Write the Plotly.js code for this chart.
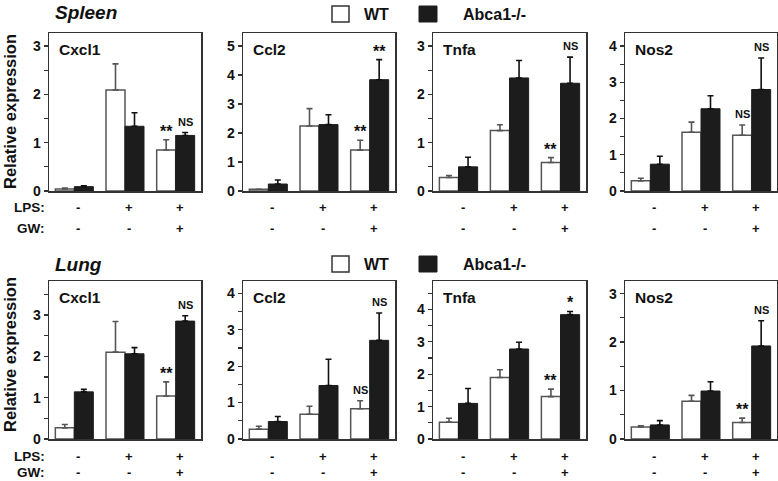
<!DOCTYPE html>
<html>
<head>
<meta charset="utf-8">
<script src="https://cdn.plot.ly/plotly-3.0.1.min.js"></script>
<style>html,body{margin:0;padding:0;background:#fff;}#chart{width:778px;height:481px;}</style>
</head>
<body>
<div id="chart"></div>
<script>
// ---------- DATA ----------
const groups = [0, 1, 2];
const lpsLabels = ['-', '+', '+'];
const gwLabels = ['-', '-', '+'];
const genes = ['Cxcl1', 'Ccl2', 'Tnfa', 'Nos2'];
const tissues = ['Spleen', 'Lung'];
const seriesNames = ['WT', 'Abca1-/-'];

// Spleen
const spleenCxcl1WT = [0.04, 2.09, 0.85];
const spleenCxcl1WTerr = [0.02, 0.54, 0.21];
const spleenCxcl1KO = [0.09, 1.34, 1.15];
const spleenCxcl1KOerr = [0.02, 0.28, 0.06];
const spleenCcl2WT = [0.06, 2.24, 1.41];
const spleenCcl2WTerr = [0.0, 0.60, 0.34];
const spleenCcl2KO = [0.24, 2.29, 3.84];
const spleenCcl2KOerr = [0.14, 0.34, 0.69];
const spleenTnfaWT = [0.28, 1.25, 0.59];
const spleenTnfaWTerr = [0.04, 0.12, 0.10];
const spleenTnfaKO = [0.50, 2.34, 2.23];
const spleenTnfaKOerr = [0.20, 0.36, 0.54];
const spleenNos2WT = [0.28, 1.62, 1.54];
const spleenNos2WTerr = [0.07, 0.28, 0.28];
const spleenNos2KO = [0.74, 2.27, 2.80];
const spleenNos2KOerr = [0.22, 0.36, 0.87];
// Lung
const lungCxcl1WT = [0.27, 2.10, 1.04];
const lungCxcl1WTerr = [0.08, 0.74, 0.34];
const lungCxcl1KO = [1.14, 2.06, 2.85];
const lungCxcl1KOerr = [0.06, 0.15, 0.13];
const lungCcl2WT = [0.27, 0.68, 0.83];
const lungCcl2WTerr = [0.08, 0.22, 0.22];
const lungCcl2KO = [0.48, 1.47, 2.71];
const lungCcl2KOerr = [0.14, 0.72, 0.75];
const lungTnfaWT = [0.52, 1.90, 1.31];
const lungTnfaWTerr = [0.12, 0.24, 0.23];
const lungTnfaKO = [1.10, 2.78, 3.84];
const lungTnfaKOerr = [0.46, 0.21, 0.10];
const lungNos2WT = [0.25, 0.78, 0.34];
const lungNos2WTerr = [0.02, 0.12, 0.09];
const lungNos2KO = [0.29, 0.99, 1.92];
const lungNos2KOerr = [0.09, 0.19, 0.52];

// significance labels for LPS+GW group [WT, KO]
const spleenSig = [['**', 'NS'], ['**', '**'], ['**', 'NS'], ['NS', 'NS']];
const lungSig = [['**', 'NS'], ['NS', 'NS'], ['**', '*'], ['**', 'NS']];

// ---------- LAYOUT HELPERS ----------
const W = 778, H = 481;
const fx = v => v / W;
const fy = v => 1 - v / H;
const FONT = 'Liberation Sans, Arial, Helvetica, sans-serif';

const panelLeft = [49, 243, 433, 625];
const panelRight = [201, 395, 586, 777];
const rowTop = [33, 281];
const rowBottom = [191, 439];
const lpsOffset = [16, 17.5];
const gwOffset = [37, 33];
const yMax = [[3.27, 5.45, 3.27, 4.36], [3.82, 4.34, 4.88, 3.26]];
const yMinor = [[0.5, null, 0.5, 0.5], [0.5, 0.5, 0.5, 0.5]];

const panelData = [
  [
    [spleenCxcl1WT, spleenCxcl1WTerr, spleenCxcl1KO, spleenCxcl1KOerr],
    [spleenCcl2WT, spleenCcl2WTerr, spleenCcl2KO, spleenCcl2KOerr],
    [spleenTnfaWT, spleenTnfaWTerr, spleenTnfaKO, spleenTnfaKOerr],
    [spleenNos2WT, spleenNos2WTerr, spleenNos2KO, spleenNos2KOerr]
  ],
  [
    [lungCxcl1WT, lungCxcl1WTerr, lungCxcl1KO, lungCxcl1KOerr],
    [lungCcl2WT, lungCcl2WTerr, lungCcl2KO, lungCcl2KOerr],
    [lungTnfaWT, lungTnfaWTerr, lungTnfaKO, lungTnfaKOerr],
    [lungNos2WT, lungNos2WTerr, lungNos2KO, lungNos2KOerr]
  ]
];
const sigs = [spleenSig, lungSig];

const traces = [];
const layout = {
  width: W, height: H,
  margin: {l: 0, r: 0, t: 0, b: 0},
  paper_bgcolor: '#fff', plot_bgcolor: '#fff',
  barmode: 'group', bargap: 0.25, bargroupgap: 0,
  showlegend: false,
  font: {family: FONT, color: '#111'},
  annotations: [], shapes: []
};

const WT_LINE = '#555';
const KO_FILL = '#1c1c1c';
const zeros = [0, 0, 0];

for (let r = 0; r < 2; r++) {
  for (let c = 0; c < 4; c++) {
    const n = r * 4 + c + 1;
    const xa = n === 1 ? 'x' : 'x' + n;
    const ya = n === 1 ? 'y' : 'y' + n;
    const xk = n === 1 ? 'xaxis' : 'xaxis' + n;
    const yk = n === 1 ? 'yaxis' : 'yaxis' + n;
    const [wt, wtErr, ko, koErr] = panelData[r][c];

    traces.push({
      type: 'bar', x: groups, y: wt, name: seriesNames[0], xaxis: xa, yaxis: ya,
      marker: {color: '#fff', line: {color: WT_LINE, width: 1.5}},
      error_y: {type: 'data', symmetric: false, array: wtErr, arrayminus: zeros,
                color: WT_LINE, thickness: 1.6, width: 3},
      hoverinfo: 'y'
    });
    traces.push({
      type: 'bar', x: groups, y: ko, name: seriesNames[1], xaxis: xa, yaxis: ya,
      marker: {color: KO_FILL, line: {color: KO_FILL, width: 1}},
      error_y: {type: 'data', symmetric: false, array: koErr, arrayminus: zeros,
                color: '#111', thickness: 1.6, width: 3},
      hoverinfo: 'y'
    });

    layout[xk] = {
      domain: [fx(panelLeft[c]), fx(panelRight[c])],
      range: [-0.5, 2.5], anchor: ya,
      showline: true, mirror: true, linecolor: '#333', linewidth: 1.5,
      showgrid: false, zeroline: false, ticks: '', showticklabels: false, fixedrange: true
    };
    const yax = {
      domain: [fy(rowBottom[r]), fy(rowTop[r])],
      range: [0, yMax[r][c]], anchor: xa,
      showline: true, mirror: true, linecolor: '#333', linewidth: 1.5,
      showgrid: false, zeroline: false,
      dtick: 1, tick0: 0, ticks: 'outside', ticklen: 4, tickwidth: 1.2, tickcolor: '#333',
      tickfont: {family: FONT, size: 14, weight: 'bold', color: '#111'},
      fixedrange: true
    };
    if (yMinor[r][c]) {
      yax.minor = {dtick: yMinor[r][c], tick0: 0, ticks: 'outside', ticklen: 4, tickwidth: 1.2, tickcolor: '#333', showgrid: false};
    }
    layout[yk] = yax;

    // gene title inside panel
    layout.annotations.push({
      text: genes[c], xref: xa + ' domain', yref: ya + ' domain',
      x: 0.05, y: 0.965, xanchor: 'left', yanchor: 'top', showarrow: false,
      font: {family: FONT, size: 15.5, weight: 'bold', color: '#111'}
    });

    // significance labels above LPS+GW bars
    const sg = sigs[r][c];
    const offs = [-0.1875, 0.1875];
    const tops = [wt[2] + wtErr[2], ko[2] + koErr[2]];
    for (let k = 0; k < 2; k++) {
      const isNS = sg[k] === 'NS';
      layout.annotations.push({
        text: sg[k], xref: xa, yref: ya, x: groups[2] + offs[k], y: tops[k],
        xanchor: 'center', yanchor: 'bottom', showarrow: false,
        yshift: isNS ? 3 : -2,
        font: {family: FONT, size: isNS ? 11 : 16, weight: 'bold', color: '#111'}
      });
    }

    // LPS / GW labels under each group
    for (let g = 0; g < 3; g++) {
      layout.annotations.push({
        text: lpsLabels[g], xref: xa, yref: 'paper', x: groups[g] + 0.08, y: fy(rowBottom[r] + lpsOffset[r]),
        xanchor: 'center', yanchor: 'middle', showarrow: false,
        font: {family: FONT, size: 13, weight: 'bold', color: '#111'}
      });
      layout.annotations.push({
        text: gwLabels[g], xref: xa, yref: 'paper', x: groups[g] + 0.08, y: fy(rowBottom[r] + gwOffset[r]),
        xanchor: 'center', yanchor: 'middle', showarrow: false,
        font: {family: FONT, size: 13, weight: 'bold', color: '#111'}
      });
    }
  }

  // Row labels
  layout.annotations.push({
    text: 'LPS:', xref: 'paper', yref: 'paper', x: fx(47), y: fy(rowBottom[r] + lpsOffset[r]),
    xanchor: 'right', yanchor: 'middle', showarrow: false,
    font: {family: FONT, size: 13.5, weight: 'bold', color: '#111'}
  });
  layout.annotations.push({
    text: 'GW:', xref: 'paper', yref: 'paper', x: fx(47), y: fy(rowBottom[r] + gwOffset[r]),
    xanchor: 'right', yanchor: 'middle', showarrow: false,
    font: {family: FONT, size: 13.5, weight: 'bold', color: '#111'}
  });
  // y-axis title
  layout.annotations.push({
    text: 'Relative expression', xref: 'paper', yref: 'paper', x: fx(10), y: fy(r === 0 ? 112 : 355),
    xanchor: 'center', yanchor: 'middle', textangle: -90, showarrow: false,
    font: {family: FONT, size: 16.5, weight: 'bold', color: '#111'}
  });
  // tissue title
  layout.annotations.push({
    text: '<i>' + tissues[r] + '</i>', xref: 'paper', yref: 'paper', x: fx(53), y: fy(r === 0 ? 13 : 264),
    xanchor: 'left', yanchor: 'middle', showarrow: false,
    font: {family: FONT, size: 19, weight: 'bold', color: '#111'}
  });
  // legend (boxes + labels)
  const ly = r === 0 ? 14 : 264;
  layout.shapes.push({type: 'rect', xref: 'paper', yref: 'paper',
    x0: fx(332), x1: fx(349), y0: fy(ly + 8), y1: fy(ly - 8),
    fillcolor: '#fff', line: {color: '#333', width: 1.5}});
  layout.shapes.push({type: 'rect', xref: 'paper', yref: 'paper',
    x0: fx(419), x1: fx(437), y0: fy(ly + 8), y1: fy(ly - 8),
    fillcolor: KO_FILL, line: {color: KO_FILL, width: 1}});
  layout.annotations.push({
    text: seriesNames[0], xref: 'paper', yref: 'paper', x: fx(362), y: fy(ly),
    xanchor: 'left', yanchor: 'middle', showarrow: false,
    font: {family: FONT, size: 16, weight: 'bold', color: '#111'}
  });
  layout.annotations.push({
    text: seriesNames[1], xref: 'paper', yref: 'paper', x: fx(461), y: fy(ly),
    xanchor: 'left', yanchor: 'middle', showarrow: false,
    font: {family: FONT, size: 16, weight: 'bold', color: '#111'}
  });
}

Plotly.newPlot('chart', traces, layout, {staticPlot: true, displayModeBar: false});
</script>
</body>
</html>
